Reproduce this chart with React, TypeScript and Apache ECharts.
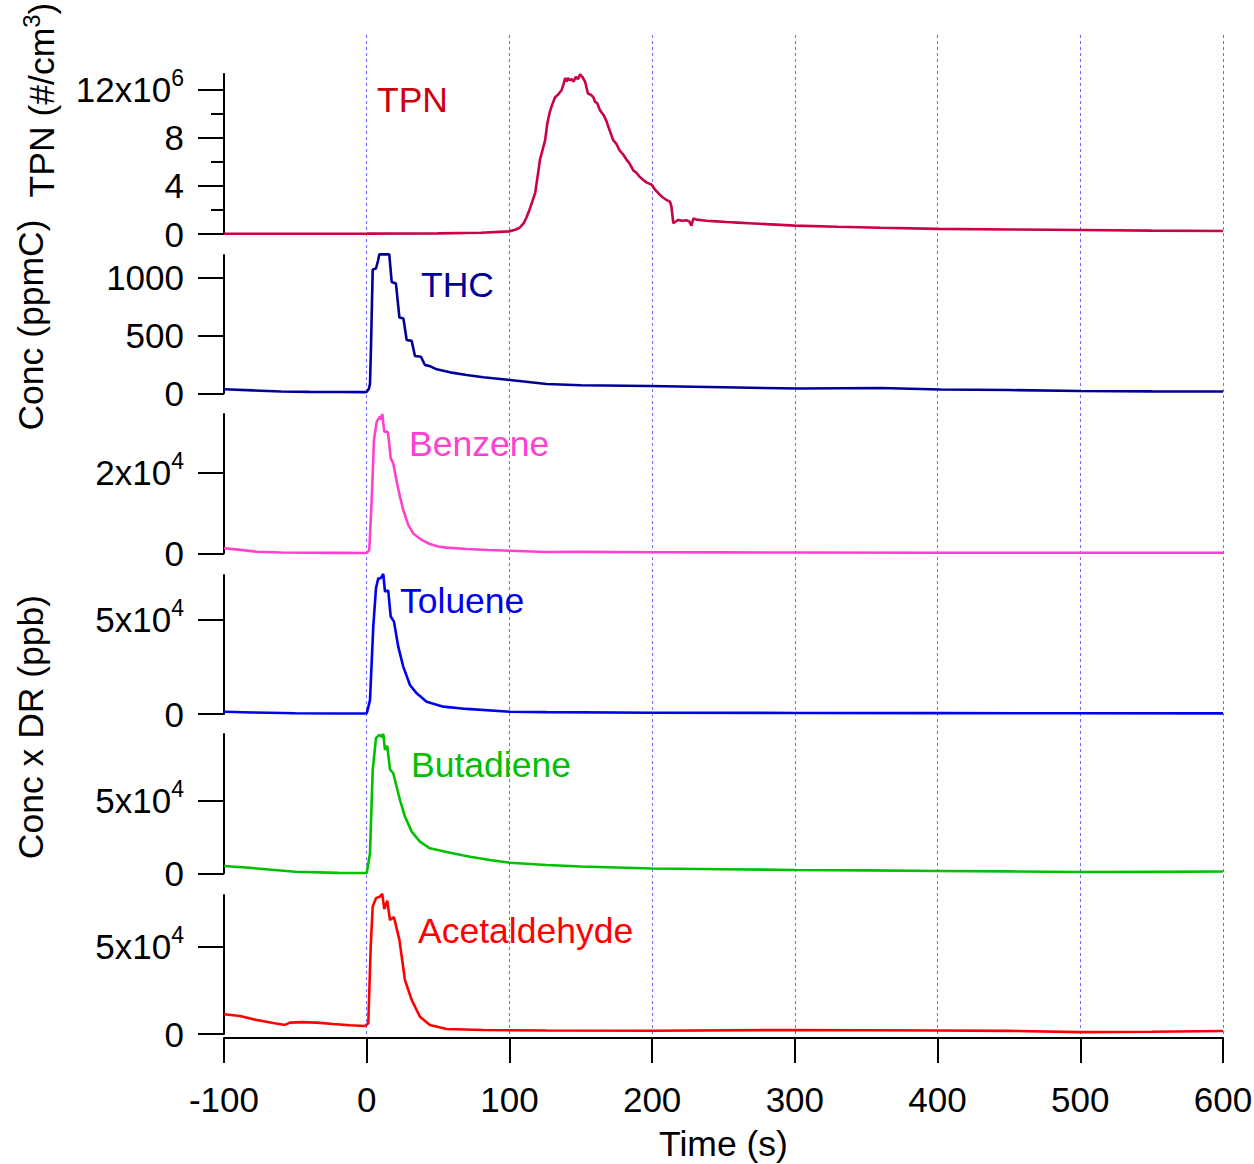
import React, { useEffect, useRef, useState } from "react";
import * as echarts from "echarts";

// ---------------- DATA ----------------
const xTicks = [-100, 0, 100, 200, 300, 400, 500, 600];

// TPN (#/cm3), values in units of 1e6
const tpnT = [-100, -50, 0, 50, 80, 93, 100, 104, 107, 110, 112, 114, 116, 118, 120, 121.4, 123, 125, 126.5, 128.4, 130, 132, 134, 136.6, 138, 139, 140, 141, 142, 143.6, 145, 146.5, 148, 149.5, 151, 153, 155, 157, 158.8, 160, 161.5, 163.5, 166, 168, 170, 172.8, 175, 177, 179.8, 182, 184, 186.8, 189, 191, 193.8, 196, 199.7, 202, 205.5, 208, 210, 212.5, 213.5, 214.8, 216, 218.3, 221, 224, 226, 227.5, 229, 231, 238, 245, 252, 260, 268, 280, 300, 330, 360, 400, 450, 500, 550, 600];
const tpnV = [0.02, 0.02, 0.03, 0.05, 0.1, 0.18, 0.22, 0.35, 0.5, 0.9, 1.4, 2.0, 2.7, 3.4, 5.0, 6.2, 6.9, 7.8, 9.2, 10.2, 10.8, 11.4, 11.6, 12.0, 12.5, 13.0, 12.7, 13.0, 12.8, 12.9, 12.7, 13.1, 12.9, 13.3, 13.1, 12.7, 11.7, 11.6, 11.4, 11.0, 10.9, 10.3, 9.9, 9.4, 8.7, 7.8, 7.5, 7.0, 6.6, 6.2, 5.9, 5.3, 5.1, 4.8, 4.5, 4.3, 4.1, 3.7, 3.25, 3.0, 2.85, 2.7, 2.3, 0.9, 1.0, 1.17, 1.1, 1.15, 1.05, 0.7, 1.3, 1.2, 1.1, 1.05, 1.0, 0.95, 0.9, 0.82, 0.7, 0.6, 0.52, 0.43, 0.38, 0.33, 0.28, 0.25];

// THC (ppmC)
const thcT = [-100, -80, -60, -40, -20, -1, 0, 1.5, 2.3, 3, 4.2, 6.5, 8, 8.8, 15.8, 17.5, 20.5, 22.9, 25.7, 28, 31.5, 33.8, 38, 40.8, 44.3, 49, 58.4, 70, 81.7, 100.4, 126, 150, 198, 250, 303, 360, 402, 450, 500, 550, 600];
const thcV = [35, 25, 15, 12, 11, 10, 14, 40, 80, 400, 1070, 1078, 1150, 1200, 1200, 962, 948, 655, 647, 460, 453, 322, 316, 244, 235, 207, 181, 158, 138, 115, 80, 70, 63, 52, 41, 46, 33, 28, 20, 17, 15];

// Benzene (ppb)
const benT = [-100, -90, -77, -60, -40, -20, 0, 1.8, 3.5, 5.1, 7, 9.3, 10, 10.9, 12.3, 14.7, 15.5, 16.8, 18.6, 21, 23.3, 25.6, 29.1, 32.6, 38.5, 44.3, 50, 56, 70, 85, 100.4, 126, 150, 200, 250, 300, 400, 500, 600];
const benV = [1230, 900, 400, 200, 120, 100, 80, 800, 13200, 28000, 32500, 33800, 33000, 34400, 30000, 30000, 28000, 23500, 22200, 17700, 14000, 10700, 7000, 4900, 3300, 2300, 1700, 1400, 1060, 800, 640, 320, 350, 250, 220, 200, 150, 140, 120];

// Toluene (ppb)
const tolT = [-100, -80, -50, -20, 0, 0.4, 2.3, 4.6, 6.5, 8.1, 9.5, 10.5, 11.6, 12.8, 15.1, 16.8, 19.1, 22.1, 25.6, 30.3, 35, 42, 53.7, 70, 100.4, 126, 200, 300, 400, 500, 600];
const tolV = [1200, 800, 370, 300, 300, 370, 7400, 46400, 66900, 72200, 72000, 73000, 74500, 65100, 65600, 51800, 49100, 35800, 25200, 15400, 11000, 6500, 3900, 2700, 1200, 1000, 700, 550, 450, 400, 350];

// Butadiene (ppb)
const butT = [-100, -80, -50, -20, 0, 0.4, 2.3, 4.2, 6.5, 8.8, 10.4, 11.6, 12.8, 14.4, 16.3, 18.6, 23.3, 26.8, 31.5, 37.3, 44.3, 58.4, 72.4, 86.4, 100.4, 126, 150, 200, 250, 300, 350, 400, 450, 500, 550, 600];
const butV = [5000, 3600, 1100, 300, 200, 200, 13800, 71200, 93000, 95300, 94000, 96000, 85000, 87700, 71600, 68900, 50500, 39000, 28700, 21800, 17200, 14200, 11400, 9200, 7300, 5700, 4700, 3300, 2800, 2300, 2000, 1600, 1300, 900, 1000, 1200];

// Acetaldehyde (ppb)
const aceT = [-100, -88.8, -77, -65.5, -57.3, -53.8, -45, -35, -23.4, -11.7, -1.2, 1.1, 2.8, 4.2, 6.5, 9.3, 10.9, 12.3, 14.4, 16.3, 19.1, 22.9, 26.8, 31.5, 37.3, 44.3, 56, 81.7, 126, 200, 300, 400, 450, 500, 550, 600];
const aceV = [11300, 10300, 8000, 6300, 5200, 6500, 6800, 6500, 5700, 5000, 4600, 6100, 50000, 73000, 77800, 78700, 80200, 71500, 76400, 65300, 66900, 53900, 30900, 19500, 9900, 5200, 2900, 2300, 2000, 1900, 2300, 2000, 1800, 1100, 1300, 1700];

// Panel y ranges and tick values
const panelMax = [13.33e6, 1195, 34400, 73900, 95900, 79600];
const panelTicks = [[0, 4e6, 8e6, 12e6], [0, 500, 1000], [0, 2e4], [0, 5e4], [0, 5e4], [0, 5e4]];
const tpnMinorTicks = [2e6, 6e6, 10e6];
const seriesNames = ["TPN", "THC", "Benzene", "Toluene", "Butadiene", "Acetaldehyde"];
const seriesColors = ["#cc0044", "#000099", "#ff40d0", "#0000ee", "#00c000", "#ff0000"];
const labelColors = ["#cc0011", "#000099", "#ff40d0", "#0000ee", "#00c000", "#ff0000"];

// ---------------- LAYOUT ----------------
const FONT = "Liberation Sans, Arial, Helvetica, sans-serif";
const LEFT = 224;
const WIDTH = 999;
const panels = [
  { top: 74, height: 160 },
  { top: 255, height: 138.3 },
  { top: 414, height: 139.3 },
  { top: 575, height: 139 },
  { top: 734, height: 139.3 },
  { top: 895, height: 139 },
];
const labelPos = [
  [377, 100], [421, 285], [409, 444], [400, 601], [411, 765], [418, 931],
];

function zip(t: number[], v: number[], scale = 1) {
  return t.map((x, i) => [x, v[i] * scale]);
}

function fmtLabel(panel: number, v: number): string {
  if (v === 0) return "0";
  if (panel === 0) {
    const m = Math.round(v / 1e6);
    return m === 12 ? "{m|12x10}{s|6}" : String(m);
  }
  if (panel === 1) return String(v);
  const e = Math.floor(Math.log10(v) + 1e-9);
  const mant = Math.round(v / Math.pow(10, e));
  return `{m|${mant}x10}{s|${e}}`;
}

export default function App() {
  const ref = useRef<HTMLDivElement>(null);
  const [err, setErr] = useState("");
  useEffect(() => {
    if (!ref.current) return;
    document.body.style.margin = "0";
    document.body.style.overflow = "hidden";
    const chart = echarts.init(ref.current, null, { renderer: "svg" });

    const grids: any[] = panels.map((p) => ({
      left: LEFT, width: WIDTH, top: p.top, height: p.height, outerBoundsMode: "none",
    }));
    // full-height grid for the vertical dashed lines and the time axis
    grids.push({ left: LEFT, width: WIDTH, top: 35, height: 1003, outerBoundsMode: "none" });

    const xAxes: any[] = panels.map((_, i) => ({
      type: "value", gridIndex: i, min: -100, max: 600, interval: 100, show: false,
    }));
    xAxes.push({
      type: "value", gridIndex: 6, min: -100, max: 600, interval: 100,
      position: "bottom",
      axisLine: { show: true, onZero: false, lineStyle: { color: "#000", width: 2 } },
      axisTick: { show: true, length: 25, lineStyle: { color: "#000", width: 2 }, customValues: xTicks },
      axisLabel: { show: true, margin: 44, fontSize: 35, color: "#000", fontFamily: FONT, customValues: xTicks },
      splitLine: { show: true, showMinLine: false, lineStyle: { color: "#6b6bff", width: 1, type: [3, 3] } },
      name: "Time (s)", nameLocation: "middle", nameGap: 90,
      nameTextStyle: { fontSize: 35.5, lineHeight: 32, color: "#000", fontFamily: FONT },
    });

    const rich = {
      m: { fontSize: 35, fontFamily: FONT, color: "#000" },
      s: { fontSize: 23, fontFamily: FONT, color: "#000", padding: [0, 0, 23, 0] },
    };

    const yAxes: any[] = panels.map((_, i) => ({
      type: "value", gridIndex: i, min: 0, max: panelMax[i], position: "left",
      axisLine: { show: true, onZero: false, lineStyle: { color: "#000", width: 2 } },
      axisTick: { show: true, length: 26, lineStyle: { color: "#000", width: 2 }, customValues: panelTicks[i] },
      axisLabel: {
        show: true, margin: 40, fontSize: 35, color: "#000", fontFamily: FONT,
        customValues: panelTicks[i],
        formatter: (v: number) => fmtLabel(i, v),
        rich,
      },
      splitLine: { show: false },
    }));
    // hidden y axis for the full-height grid
    yAxes.push({ type: "value", gridIndex: 6, min: 0, max: 1, show: false });
    // minor ticks for TPN panel
    yAxes.push({
      type: "value", gridIndex: 0, min: 0, max: panelMax[0], position: "left",
      axisLine: { show: false, onZero: false },
      axisTick: { show: true, length: 13, lineStyle: { color: "#000", width: 2 }, customValues: tpnMinorTicks },
      axisLabel: { show: false },
      splitLine: { show: false },
    });

    const datasets = [
      zip(tpnT, tpnV, 1e6), zip(thcT, thcV), zip(benT, benV),
      zip(tolT, tolV), zip(butT, butV), zip(aceT, aceV),
    ];
    const series: any[] = datasets.map((d, i) => ({
      type: "line", name: seriesNames[i], xAxisIndex: i, yAxisIndex: i, data: d,
      showSymbol: false, symbol: "none", clip: false,
      lineStyle: { color: seriesColors[i], width: 2.6 },
      z: 5,
    }));

    const graphics: any[] = seriesNames.map((n, i) => ({
      type: "text", x: labelPos[i][0], y: labelPos[i][1],
      style: { text: n, fill: labelColors[i], fontSize: 35.5, fontFamily: FONT, textAlign: "left", textVerticalAlign: "middle" },
      z: 10,
    }));
    graphics.push(
      {
        type: "text", x: 42, y: 100, rotation: Math.PI / 2,
        style: {
          text: "{a|TPN (#/cm}{s|3}{a|)}", textAlign: "center", textVerticalAlign: "middle",
          rich: {
            a: { fontSize: 35.5, fontFamily: FONT, fill: "#000" },
            s: { fontSize: 24, fontFamily: FONT, fill: "#000", padding: [0, 0, 22, 0] },
          },
        },
      },
      {
        type: "text", x: 31, y: 325, rotation: Math.PI / 2,
        style: { text: "Conc (ppmC)", fontSize: 35.5, fontFamily: FONT, fill: "#000", textAlign: "center", textVerticalAlign: "middle" },
      },
      {
        type: "text", x: 31, y: 727, rotation: Math.PI / 2,
        style: { text: "Conc x DR (ppb)", fontSize: 35.5, fontFamily: FONT, fill: "#000", textAlign: "center", textVerticalAlign: "middle" },
      }
    );

    try {
      chart.setOption({
        animation: false,
        backgroundColor: "#fff",
        grid: grids,
        xAxis: xAxes,
        yAxis: yAxes,
        series,
        graphic: graphics,
      });
    } catch (e: any) {
      setErr(String(e && e.stack).slice(0, 1200));
    }
    return () => chart.dispose();
  }, []);

  return (
    <div style={{ position: "fixed", left: 0, top: 0, width: 1254, height: 1164, background: "#fff" }}>
      <div ref={ref} style={{ width: 1254, height: 1164 }} />
      {err ? <pre style={{ position: "absolute", top: 0, left: 0, fontSize: 14, whiteSpace: "pre-wrap" }}>{err}</pre> : null}
    </div>
  );
}
